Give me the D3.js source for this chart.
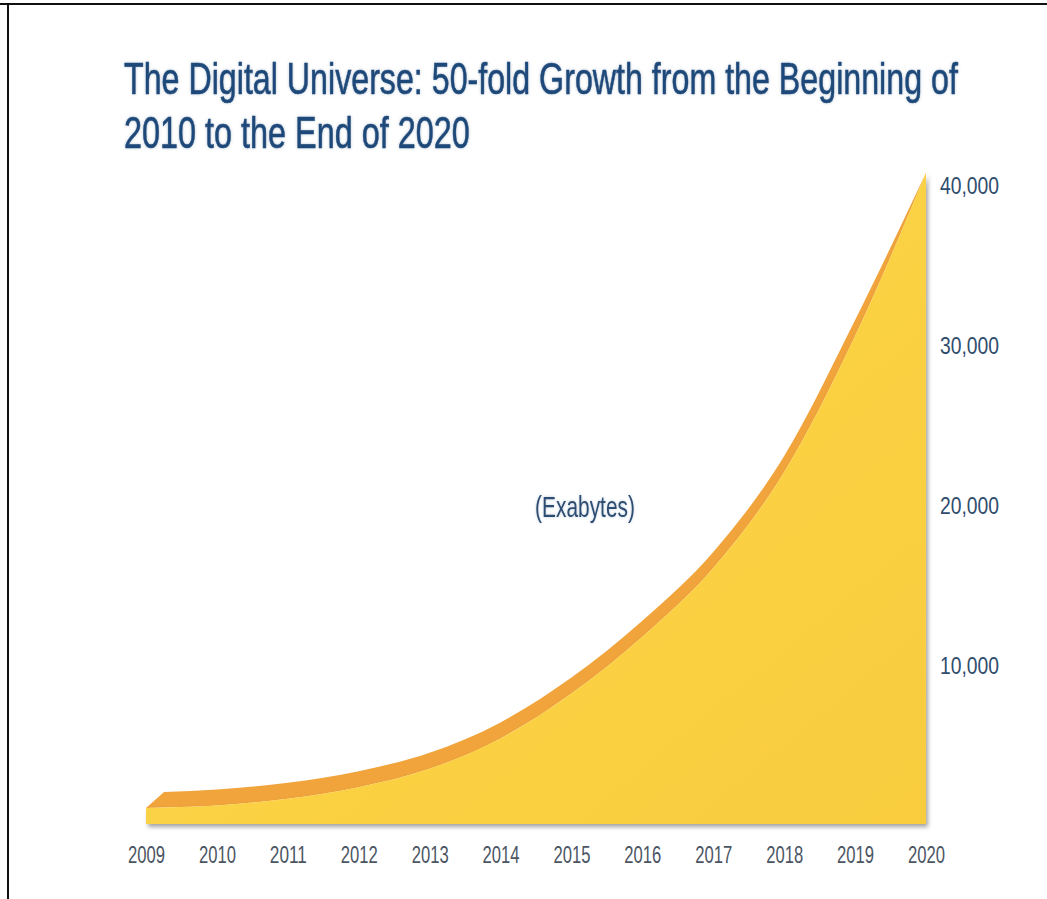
<!DOCTYPE html>
<html>
  <head>
    <meta charset="utf-8" />
    <title>The Digital Universe</title>
    <script src="https://d3js.org/d3.v7.min.js"></script>
    <style>
      body {
          margin: 0;
          background: #fff;
      }
      text {
          font-family: "Liberation Sans", Arial, sans-serif;
      }
    </style>
  </head>
  <body>

    <svg id="chart"></svg>

    <script>
        // values (exabytes per year)
        var years = [2009, 2010, 2011, 2012, 2013, 2014, 2015, 2016, 2017, 2018, 2019, 2020];
        var exabytes = [1000, 1150, 1580, 2300, 3450, 5350, 8150, 11700, 16000, 22000, 30500, 40700];
        var yTicks = [10000, 20000, 30000, 40000];
        var titleLines = ["The Digital Universe: 50-fold Growth from the Beginning of", "2010 to the End of 2020"];
        var unitLabel = "(Exabytes)";

        var width = 1047;
        var height = 899;

        var data = years.map(function(d, i) {
            return {year: d, value: exabytes[i]};
        });

        var svg = d3.select("#chart")
          .attr("width", width)
          .attr("height", height);

        var defs = svg.append("defs");

        var grad = defs.append("linearGradient")
          .attr("id", "front")
          .attr("x1", "0").attr("y1", "0")
          .attr("x2", "1").attr("y2", "1");
        grad.append("stop").attr("offset", "0%").attr("stop-color", "#fdd84a");
        grad.append("stop").attr("offset", "100%").attr("stop-color", "#f9cc3e");

        var shadow = defs.append("filter")
          .attr("id", "shadow")
          .attr("x", "-5%").attr("y", "-5%")
          .attr("width", "115%").attr("height", "115%");
        shadow.append("feDropShadow")
          .attr("dx", 2).attr("dy", 3)
          .attr("stdDeviation", 2)
          .attr("flood-color", "#555")
          .attr("flood-opacity", 0.55);

        var glow = defs.append("filter")
          .attr("id", "glow")
          .attr("x", "-10%").attr("y", "-30%")
          .attr("width", "120%").attr("height", "160%");
        glow.append("feGaussianBlur")
          .attr("in", "SourceAlpha")
          .attr("stdDeviation", 1.6)
          .attr("result", "blur");
        glow.append("feFlood").attr("flood-color", "#7f9bb8").attr("flood-opacity", 0.55);
        glow.append("feComposite").attr("in2", "blur").attr("operator", "in").attr("result", "halo");
        var gm = glow.append("feMerge");
        gm.append("feMergeNode").attr("in", "halo");
        gm.append("feMergeNode").attr("in", "SourceGraphic");

        // squeeze a text horizontally so it takes the given width (condensed look)
        function condense(sel, x0, y0, w, anchor) {
            sel.each(function() {
                var t = d3.select(this);
                var natural = this.getComputedTextLength();
                var k = w / natural;
                t.attr("x", 0).attr("y", 0)
                  .attr("text-anchor", anchor || "start")
                  .attr("transform", "translate(" + x0 + "," + y0 + ") scale(" + k + ",1)");
            });
        }

        // frame lines
        svg.append("line")
          .attr("x1", 0).attr("x2", width)
          .attr("y1", 4).attr("y2", 4)
          .attr("stroke", "#111").attr("stroke-width", 2);
        svg.append("line")
          .attr("x1", 8).attr("x2", 8)
          .attr("y1", 3).attr("y2", height)
          .attr("stroke", "#111").attr("stroke-width", 2);

        var x = d3.scaleLinear()
          .domain([2009, 2020])
          .range([146, 926]);

        var y = d3.scaleLinear()
          .domain([0, 40000])
          .range([824, 184]);

        var n = data.length;
        var depthX = 18, depthY = 16;

        // orange ribbon = back edge + front edge reversed
        var backLine = d3.line()
          .x(function(d, i) { return x(d.year) + (i === 0 ? depthX : 0); })
          .y(function(d, i) { return y(d.value) - (i === n - 1 ? 0 : depthY); })
          .curve(d3.curveMonotoneX);

        var frontLine = d3.line()
          .x(function(d) { return x(d.year); })
          .y(function(d) { return y(d.value); })
          .curve(d3.curveMonotoneX);

        var bandPath = backLine(data) + "L" + frontLine(data.slice().reverse()).slice(1) + "Z";

        svg.append("path")
          .attr("d", bandPath)
          .attr("fill", "#f1a43b");

        var area = d3.area()
          .x(function(d) { return x(d.year); })
          .y0(y(0))
          .y1(function(d) { return y(d.value); })
          .curve(d3.curveMonotoneX);

        svg.append("path")
          .datum(data)
          .attr("d", area)
          .attr("fill", "url(#front)")
          .attr("filter", "url(#shadow)");

        // x axis
        var xAxis = d3.axisBottom(x)
          .tickValues(years)
          .tickFormat(d3.format("d"))
          .tickSize(0)
          .tickPadding(0);

        var gx = svg.append("g")
          .attr("transform", "translate(0," + (y(0) + 31) + ")")
          .call(xAxis);
        gx.select(".domain").remove();
        gx.selectAll("text")
          .attr("dy", "0.35em")
          .attr("font-size", 23)
          .attr("fill", "#4b5563")
          .attr("textLength", 37)
          .attr("lengthAdjust", "spacingAndGlyphs");

        // y axis on the right
        var yAxis = d3.axisRight(y)
          .tickValues(yTicks)
          .tickFormat(d3.format(","))
          .tickSize(0)
          .tickPadding(0);

        var gy = svg.append("g")
          .attr("transform", "translate(940,2)")
          .call(yAxis);
        gy.select(".domain").remove();
        gy.selectAll("text")
          .attr("font-size", 23)
          .attr("fill", "#2f4c6e")
          .attr("textLength", 59)
          .attr("lengthAdjust", "spacingAndGlyphs");

        // title
        var title = svg.append("g").attr("filter", "url(#glow)");
        title.selectAll("text")
          .data(titleLines)
          .enter().append("text")
          .attr("font-size", 44)
          .attr("fill", "#1e4a7a")
          .attr("stroke", "#1e4a7a")
          .attr("stroke-width", 0.6)
          .text(function(d) { return d; })
          .each(function(d, i) {
              condense(d3.select(this), 124, 94 + i * 54, i === 0 ? 834 : 346);
          });

        var unit = svg.append("text")
          .attr("font-size", 29)
          .attr("fill", "#2e4d72")
          .attr("filter", "url(#glow)")
          .text(unitLabel);
        condense(unit, 585, 517, 100, "middle");
    </script>
  </body>
</html>
